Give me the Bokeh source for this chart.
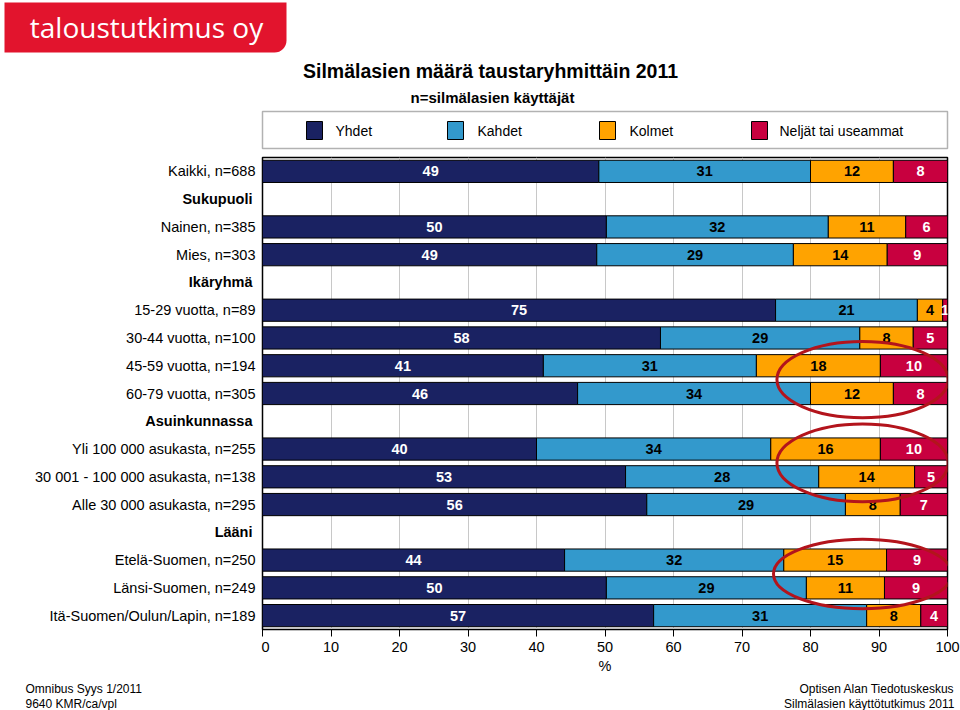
from bokeh.plotting import figure
from bokeh.layouts import column, row
from bokeh.models import Range1d, BoxAnnotation, ColumnDataSource, FixedTicker
from bokeh.core.properties import value
from bokeh.embed import file_html
from bokeh.resources import INLINE

# ---------------- data ----------------
row_labels = [
    "Kaikki, n=688", "Sukupuoli", "Nainen, n=385", "Mies, n=303", "Ikäryhmä",
    "15-29 vuotta, n=89", "30-44 vuotta, n=100", "45-59 vuotta, n=194", "60-79 vuotta, n=305",
    "Asuinkunnassa", "Yli 100 000 asukasta, n=255", "30 001 - 100 000 asukasta, n=138",
    "Alle 30 000 asukasta, n=295", "Lääni", "Etelä-Suomen, n=250", "Länsi-Suomen, n=249",
    "Itä-Suomen/Oulun/Lapin, n=189",
]
header_labels = ["Sukupuoli", "Ikäryhmä", "Asuinkunnassa", "Lääni"]
series_names = ["Yhdet", "Kahdet", "Kolmet", "Neljät tai useammat"]

yhdet = [49.1, 50.2, 48.8, 74.9, 58.1, 41.0, 46.0, 40.0, 53.0, 56.1, 44.1, 50.2, 57.1]
kahdet = [30.9, 32.4, 28.7, 20.7, 29.1, 31.1, 34.0, 34.2, 28.2, 29.0, 32.0, 29.2, 31.1]
kolmet = [12.1, 11.3, 13.7, 3.7, 7.8, 18.1, 12.1, 16.0, 14.0, 8.0, 15.0, 11.4, 7.9]
neljat = [7.9, 6.1, 8.8, 0.7, 5.0, 9.8, 7.9, 9.8, 4.8, 6.9, 8.9, 9.2, 3.9]
x_ticks = [0, 10, 20, 30, 40, 50, 60, 70, 80, 90, 100]

title_text = "Silmälasien määrä taustaryhmittäin 2011"
subtitle_text = "n=silmälasien käyttäjät"
logo_text = "taloustutkimus oy"
footer_left = ["Omnibus Syys 1/2011", "9640 KMR/ca/vpl"]
footer_right = ["Optisen Alan Tiedotuskeskus", "Silmälasien käyttötutkimus 2011"]

# rows circled in red (pairs of rows, highlighting the Kolmet + Neljät part)
highlight_pairs = [
    ("45-59 vuotta, n=194", "60-79 vuotta, n=305"),
    ("Yli 100 000 asukasta, n=255", "30 001 - 100 000 asukasta, n=138"),
    ("Etelä-Suomen, n=250", "Länsi-Suomen, n=249"),
]

colors = ["#1a2262", "#3399cc", "#ffa300", "#c8003f"]
label_colors = ["white", "black", "black", "white"]
FONT = "Liberation Sans"

# ---------------- layout geometry (pixels) ----------------
W = 960
HEAD_H = 156          # header figure height (logo, title, legend)
LABEL_W = 261         # row-label figure width
FRAME_W, FRAME_H = 685, 472
AXIS_H = 50
MAIN_H = 1 + FRAME_H + AXIS_H
FOOT_H = 710 - HEAD_H - MAIN_H
N = len(row_labels)


def blank(width, height, xr, yr, **kw):
    f = figure(width=width, height=height, output_backend="svg", toolbar_location=None,
               x_range=xr, y_range=yr, x_axis_location=None, y_axis_location=None,
               min_border=0, min_border_left=0, min_border_right=0,
               min_border_top=0, min_border_bottom=0, **kw)
    f.grid.visible = False
    f.outline_line_color = None
    f.background_fill_color = "white"
    f.border_fill_color = "white"
    return f


def put_text(f, xs, ys, texts, size, bold=False, align="left", color="black", font=FONT):
    f.text(x=xs, y=ys, text=texts, text_align=align, text_baseline="middle",
           text_color=color, text_font=value(font), text_font_size=size,
           text_font_style="bold" if bold else "normal")


# ---------------- header: logo, title, legend ----------------
head = blank(W, HEAD_H, Range1d(0, W), Range1d(HEAD_H, 0))
head.add_layout(BoxAnnotation(left=4, right=286, top=2, bottom=52, fill_color="#e2142d",
                              fill_alpha=1, line_color=None, border_radius=(0, 0, 12, 0),
                              level="underlay"))
put_text(head, [146], [26], [logo_text], "28px", bold=False, align="center", font="Open Sans",
         color="white")
put_text(head, [490], [70], [title_text], "19.5px", bold=True, align="center")
put_text(head, [492], [97], [subtitle_text], "15px", bold=True, align="center")

head.add_layout(BoxAnnotation(left=262, right=947, top=111, bottom=148, fill_color="white",
                              fill_alpha=1, line_color="black", line_width=1.5,
                              level="underlay"))
leg_sq_x = [306, 447, 599, 751]
leg_tx_x = [335, 477, 629, 779]
head.quad(left=leg_sq_x, right=[q + 16 for q in leg_sq_x], top=[121] * 4, bottom=[139] * 4,
          fill_color=colors, line_color="black", line_width=1)
put_text(head, leg_tx_x, [130] * 4, series_names, "14px")

# ---------------- main chart ----------------
shared_y = Range1d(N - 0.5, -0.5)
p = figure(
    width=W - LABEL_W, height=MAIN_H,
    output_backend="svg", toolbar_location=None,
    x_range=Range1d(0, 100), y_range=shared_y,
    y_axis_location=None,
    min_border_left=1, min_border_right=W - LABEL_W - 1 - FRAME_W,
    min_border_top=1, min_border_bottom=AXIS_H,
)
p.outline_line_color = "black"
p.outline_line_width = 1.5
p.background_fill_color = "white"
p.border_fill_color = "white"
p.ygrid.visible = False
p.xgrid.ticker = FixedTicker(ticks=x_ticks)
p.xgrid.grid_line_color = "#c8c8c8"
p.xgrid.grid_line_width = 1

ax = p.xaxis[0]
ax.ticker = FixedTicker(ticks=x_ticks)
ax.axis_line_color = "black"
ax.axis_line_width = 1
ax.major_tick_line_color = "black"
ax.major_tick_in = 0
ax.major_tick_out = 7
ax.minor_tick_line_color = None
ax.major_label_text_font = FONT
ax.major_label_text_font_size = "14.5px"
ax.major_label_text_color = "black"
ax.major_label_standoff = 5
ax.axis_label = "%"
ax.axis_label_text_font = FONT
ax.axis_label_text_font_size = "14.5px"
ax.axis_label_text_font_style = "normal"
ax.axis_label_text_color = "black"
ax.axis_label_standoff = 3

data_rows = [r for r in row_labels if r not in header_labels]
ys = [row_labels.index(r) for r in data_rows]
series = [yhdet, kahdet, kolmet, neljat]
left = [0.0] * len(data_rows)
for vals, col, lcol in zip(series, colors, label_colors):
    right = [l + v for l, v in zip(left, vals)]
    src = ColumnDataSource(dict(
        y=ys, left=left, right=right,
        mid=[(l + r) / 2 for l, r in zip(left, right)],
        txt=[str(int(round(v))) for v in vals],
    ))
    p.hbar(y="y", left="left", right="right", height=0.8, source=src,
           fill_color=col, line_color="black", line_width=1)
    p.text(x="mid", y="y", text="txt", source=src, text_align="center",
           text_baseline="middle", text_color=lcol, text_font=value(FONT),
           text_font_size="14.5px", text_font_style="bold")
    left = right

# red highlight ellipses
ex, ey = [], []
for a, b in highlight_pairs:
    ey.append((row_labels.index(a) + row_labels.index(b)) / 2)
    ex.append(87.6)
p.ellipse(x=ex, y=ey, width=[25, 25, 26], height=[2.75, 2.8, 2.5],
          fill_color=None, line_color="#b3141c", line_width=3)

# ---------------- row labels (frames are aligned in the row, so share y) ----------------
labels_fig = blank(LABEL_W, MAIN_H, Range1d(0, LABEL_W), shared_y)
normal_rows = [(i, r) for i, r in enumerate(row_labels) if r not in header_labels]
bold_rows = [(i, r) for i, r in enumerate(row_labels) if r in header_labels]
put_text(labels_fig, [255] * len(normal_rows), [i for i, _ in normal_rows],
         [r for _, r in normal_rows], "14.5px", align="right")
put_text(labels_fig, [252] * len(bold_rows), [i for i, _ in bold_rows],
         [r for _, r in bold_rows], "14.5px", bold=True, align="right")

# ---------------- footer ----------------
foot = blank(W, FOOT_H, Range1d(0, W), Range1d(FOOT_H, 0))
put_text(foot, [25, 25], [9, 24], footer_left, "12px")
put_text(foot, [954, 954], [9, 24], footer_right, "12px", align="right")

layout = column(head, row(labels_fig, p, spacing=0), foot, spacing=0)
open("out.html", "w").write(file_html(layout, INLINE))
